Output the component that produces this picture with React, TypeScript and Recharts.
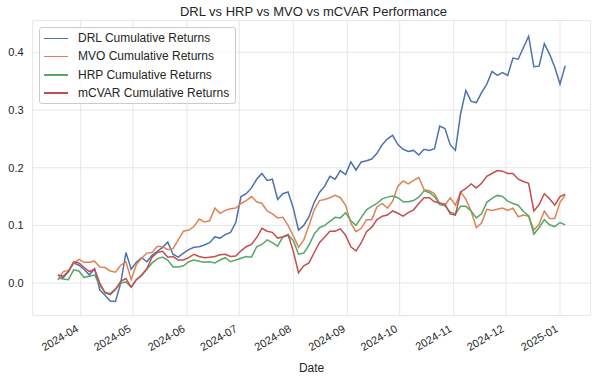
import React from "react";
import { LineChart, Line, XAxis, YAxis, CartesianGrid } from "recharts";

const dates = [
  "2024-03-19", "2024-03-22", "2024-03-25", "2024-03-28", "2024-03-31",
  "2024-04-03", "2024-04-06", "2024-04-09", "2024-04-12", "2024-04-15",
  "2024-04-18", "2024-04-21", "2024-04-24", "2024-04-27", "2024-04-30",
  "2024-05-03", "2024-05-06", "2024-05-09", "2024-05-12", "2024-05-15",
  "2024-05-18", "2024-05-21", "2024-05-24", "2024-05-27", "2024-05-30",
  "2024-06-02", "2024-06-05", "2024-06-08", "2024-06-11", "2024-06-14",
  "2024-06-17", "2024-06-20", "2024-06-23", "2024-06-26", "2024-06-29",
  "2024-07-02", "2024-07-05", "2024-07-08", "2024-07-11", "2024-07-14",
  "2024-07-17", "2024-07-20", "2024-07-23", "2024-07-26", "2024-07-29",
  "2024-08-01", "2024-08-04", "2024-08-07", "2024-08-10", "2024-08-13",
  "2024-08-16", "2024-08-19", "2024-08-22", "2024-08-25", "2024-08-28",
  "2024-08-31", "2024-09-03", "2024-09-06", "2024-09-09", "2024-09-12",
  "2024-09-15", "2024-09-18", "2024-09-21", "2024-09-24", "2024-09-27",
  "2024-09-30", "2024-10-03", "2024-10-06", "2024-10-09", "2024-10-12",
  "2024-10-15", "2024-10-18", "2024-10-21", "2024-10-24", "2024-10-27",
  "2024-10-30", "2024-11-02", "2024-11-05", "2024-11-08", "2024-11-11",
  "2024-11-14", "2024-11-17", "2024-11-20", "2024-11-23", "2024-11-26",
  "2024-11-29", "2024-12-02", "2024-12-05", "2024-12-08", "2024-12-11",
  "2024-12-14", "2024-12-17", "2024-12-20", "2024-12-23", "2024-12-26",
  "2024-12-29", "2025-01-01", "2025-01-04",
];

const drl = [
  0.014, 0.009, 0.02, 0.035, 0.031, 0.024, 0.014, 0.025, -0.012, -0.021,
  -0.031, -0.032, 0.0, 0.053, 0.024, 0.036, 0.044, 0.037, 0.048, 0.055,
  0.062, 0.071, 0.05, 0.045, 0.052, 0.058, 0.062, 0.063, 0.066, 0.07,
  0.08, 0.078, 0.084, 0.088, 0.105, 0.15, 0.155, 0.165, 0.18, 0.19,
  0.178, 0.18, 0.145, 0.155, 0.158, 0.13, 0.092, 0.1, 0.115, 0.14,
  0.157, 0.168, 0.185, 0.18, 0.195, 0.188, 0.21, 0.196, 0.21, 0.212,
  0.215, 0.225, 0.24, 0.25, 0.256, 0.24, 0.232, 0.228, 0.23, 0.222,
  0.232, 0.23, 0.233, 0.272, 0.268, 0.24, 0.23, 0.294, 0.334, 0.315,
  0.313, 0.33, 0.345, 0.367, 0.36, 0.365, 0.36, 0.39, 0.388, 0.408,
  0.428, 0.375, 0.376, 0.415, 0.397, 0.374, 0.345, 0.377,
];

const mvo = [
  0.005, 0.02, 0.022, 0.034, 0.041, 0.036, 0.036, 0.038, 0.028, 0.027,
  0.021, 0.019, 0.031, 0.037, 0.006, 0.032, 0.043, 0.052, 0.053, 0.064,
  0.063, 0.058, 0.06, 0.075, 0.09, 0.092, 0.098, 0.111, 0.106, 0.108,
  0.13, 0.121, 0.126, 0.129, 0.13, 0.138, 0.143, 0.15, 0.141, 0.138,
  0.125, 0.12, 0.113, 0.114, 0.1, 0.082, 0.062, 0.075, 0.1, 0.127,
  0.143, 0.145, 0.148, 0.152, 0.148, 0.135, 0.104, 0.089, 0.095, 0.11,
  0.11, 0.132, 0.138, 0.13, 0.142, 0.168, 0.177, 0.172, 0.178, 0.183,
  0.162, 0.16, 0.155, 0.138, 0.135, 0.148, 0.135, 0.158, 0.145, 0.125,
  0.096, 0.104, 0.128, 0.126, 0.128, 0.13, 0.126, 0.13, 0.115, 0.118,
  0.116, 0.092, 0.102, 0.125, 0.112, 0.112, 0.14, 0.152,
];

const hrp = [
  0.009, 0.007, 0.006, 0.023, 0.021, 0.01, 0.012, 0.014, -0.004, -0.016,
  -0.018, -0.01, 0.0, 0.002, -0.007, 0.006, 0.013, 0.024, 0.035, 0.042,
  0.045, 0.04, 0.028, 0.028, 0.03, 0.037, 0.04, 0.038, 0.036, 0.037,
  0.035, 0.04, 0.044, 0.037, 0.04, 0.043, 0.046, 0.045, 0.063, 0.067,
  0.075, 0.07, 0.064, 0.08, 0.083, 0.074, 0.05, 0.052, 0.066, 0.085,
  0.096, 0.1, 0.107, 0.114, 0.113, 0.122, 0.108, 0.1, 0.114, 0.127,
  0.133, 0.138, 0.146, 0.149, 0.151, 0.148, 0.141, 0.141, 0.143, 0.149,
  0.16, 0.157, 0.15, 0.136, 0.134, 0.123, 0.12, 0.133, 0.133, 0.125,
  0.113, 0.12, 0.14, 0.147, 0.152, 0.15, 0.142, 0.138, 0.135, 0.124,
  0.117, 0.085, 0.096, 0.11, 0.101, 0.098, 0.105, 0.101,
];

const mcvar = [
  0.014, 0.012, 0.02, 0.037, 0.035, 0.027, 0.02, 0.024, 0.0, -0.017,
  -0.02, -0.011, 0.003, 0.008, -0.007, 0.006, 0.014, 0.025, 0.045, 0.053,
  0.055, 0.045, 0.046, 0.04, 0.04, 0.044, 0.05, 0.046, 0.044, 0.045,
  0.046, 0.049, 0.05, 0.046, 0.047, 0.056, 0.063, 0.067, 0.079, 0.095,
  0.09, 0.088, 0.078, 0.08, 0.084, 0.055, 0.018, 0.03, 0.035, 0.053,
  0.07, 0.08, 0.09, 0.09, 0.094, 0.083, 0.063, 0.056, 0.07, 0.089,
  0.097, 0.11, 0.116, 0.118, 0.125, 0.121, 0.116, 0.122, 0.127, 0.138,
  0.148, 0.148, 0.141, 0.139, 0.137, 0.12, 0.118, 0.158, 0.164, 0.172,
  0.165, 0.173, 0.185, 0.19, 0.195, 0.194, 0.19, 0.19, 0.18, 0.176,
  0.173, 0.125, 0.136, 0.155, 0.146, 0.135, 0.15, 0.154,
];

const monthTicks = [
  "2024-04-01", "2024-05-01", "2024-06-01", "2024-07-01", "2024-08-01",
  "2024-09-01", "2024-10-01", "2024-11-01", "2024-12-01", "2025-01-01",
];
const yTicks = [0, 0.1, 0.2, 0.3, 0.4];

const series = [
  { key: "drl", name: "DRL Cumulative Returns", color: "#4c72b0" },
  { key: "mvo", name: "MVO Cumulative Returns", color: "#dd8452" },
  { key: "hrp", name: "HRP Cumulative Returns", color: "#55a868" },
  { key: "mcvar", name: "mCVAR Cumulative Returns", color: "#c44e52" },
];

const rows = dates.map((d, i) => ({
  t: Date.parse(d),
  drl: drl[i],
  mvo: mvo[i],
  hrp: hrp[i],
  mcvar: mcvar[i],
}));

const DAY = 86400000;
const xPad = 14.55 * DAY;
const xDomain = [rows[0].t - xPad, rows[rows.length - 1].t + xPad];
const tickTimes = monthTicks.map((m) => Date.parse(m));

const FONT = "'Liberation Sans', Arial, sans-serif";
const TEXT = "#262626";

function XTick(props: any) {
  const { x, y, payload } = props;
  const label = new Date(payload.value).toISOString().slice(0, 7);
  return (
    <text
      x={x - 1.2}
      y={y + 15.6}
      transform={`rotate(-30 ${x - 1.2} ${y + 15.6})`}
      textAnchor="end"
      fontSize={11}
      fontFamily={FONT}
      fill={TEXT}
    >
      {label}
    </text>
  );
}

function YTick(props: any) {
  const { x, y, payload } = props;
  return (
    <text
      x={x - 9}
      y={y}
      dy="0.35em"
      textAnchor="end"
      fontSize={11}
      fontFamily={FONT}
      fill={TEXT}
    >
      {Number(payload.value).toFixed(1)}
    </text>
  );
}

export default function App() {
  return (
    <div
      style={{
        position: "fixed",
        left: 0,
        top: 0,
        width: 598,
        height: 381,
        background: "#fff",
        fontFamily: FONT,
      }}
    >
      <div
        style={{
          position: "absolute",
          left: 0,
          width: 627,
          top: 4,
          textAlign: "center",
          fontSize: 13,
          lineHeight: "15px",
          color: TEXT,
        }}
      >
        DRL vs HRP vs MVO vs mCVAR Performance
      </div>
      <LineChart
        width={598}
        height={381}
        data={rows}
        margin={{ top: 20.6, right: 7.4, bottom: 0, left: 0 }}
      >
        <CartesianGrid stroke="#e6e6e6" strokeWidth={1} />
        <XAxis
          dataKey="t"
          type="number"
          domain={xDomain}
          allowDataOverflow
          ticks={tickTimes}
          interval={0}
          tick={<XTick />}
          tickSize={0}
          tickMargin={0}
          axisLine={false}
          tickLine={false}
          height={65.6}
          label={{
            value: "Date",
            position: "insideBottom",
            offset: 9,
            fontSize: 12,
            fontFamily: FONT,
            fill: TEXT,
          }}
        />
        <YAxis
          type="number"
          domain={[-0.056, 0.455]}
          allowDataOverflow
          ticks={yTicks}
          interval={0}
          tick={<YTick />}
          tickSize={0}
          tickMargin={0}
          axisLine={false}
          tickLine={false}
          width={32.6}
        />
        {series.map((s) => (
          <Line
            key={s.key}
            type="linear"
            dataKey={s.key}
            name={s.name}
            stroke={s.color}
            strokeWidth={1.5}
            dot={false}
            activeDot={false}
            isAnimationActive={false}
          />
        ))}
      </LineChart>
      <div
        style={{
          position: "absolute",
          left: 38.6,
          top: 26.6,
          width: 195,
          height: 75,
          border: "1px solid #cccccc",
          borderRadius: 3,
          background: "rgba(255,255,255,0.8)",
        }}
      >
        {series.map((s, i) => (
          <div
            key={s.key}
            style={{
              position: "absolute",
              left: 0,
              top: 3.8 + i * 18.1,
              height: 14,
              width: 195,
            }}
          >
            <div
              style={{
                position: "absolute",
                left: 4.8,
                top: 6.5,
                width: 24,
                height: 1.5,
                background: s.color,
              }}
            />
            <div
              style={{
                position: "absolute",
                left: 38.4,
                top: 0,
                fontSize: 12,
                lineHeight: "14px",
                color: TEXT,
                whiteSpace: "nowrap",
              }}
            >
              {s.name}
            </div>
          </div>
        ))}
      </div>
    </div>
  );
}
